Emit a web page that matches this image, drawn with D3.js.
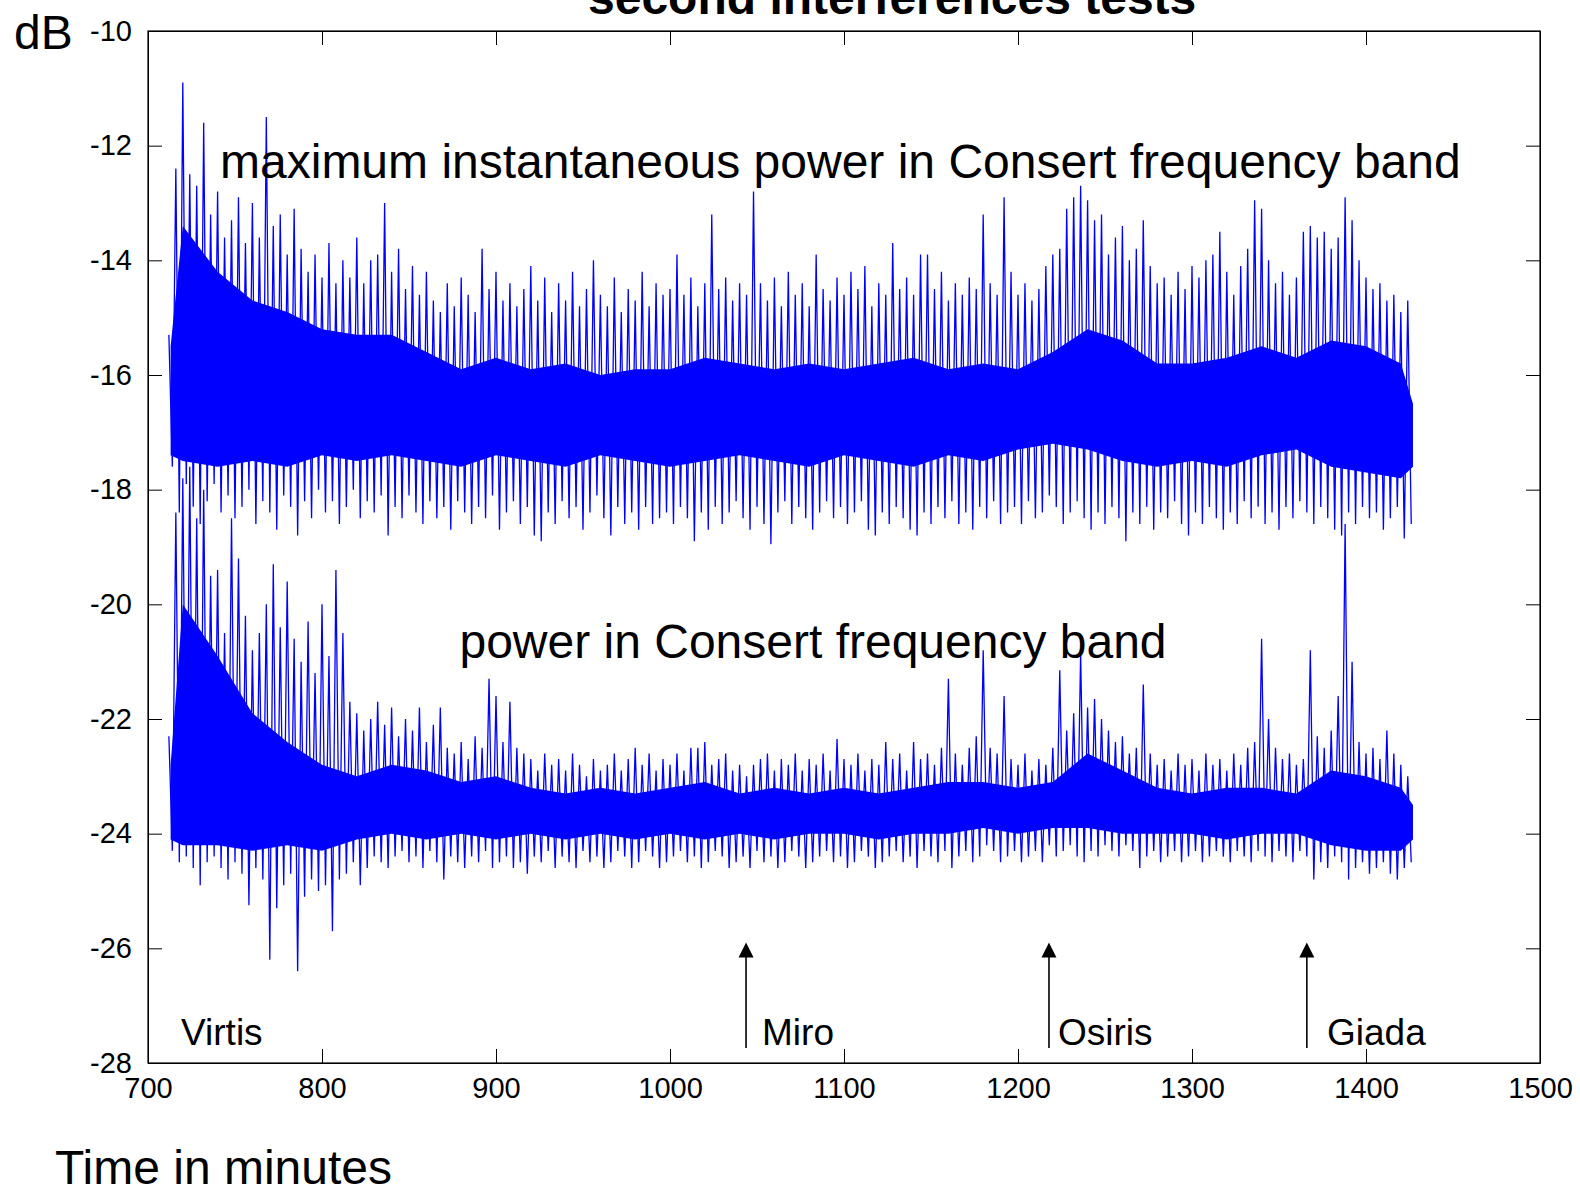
<!DOCTYPE html>
<html>
<head>
<meta charset="utf-8">
<script src="https://cdn.jsdelivr.net/npm/d3@7"></script>
<style>
  body { margin: 0; background: #ffffff; }
  svg { display: block; font-family: "Liberation Sans", Arial, Helvetica, sans-serif; }
</style>
</head>
<body>
<div id="chart"></div>
<script>
/////////////////////////////////////////////////////////////////////  DATA

var xTicks = [700, 800, 900, 1000, 1100, 1200, 1300, 1400, 1500];
var yTicks = [-28, -26, -24, -22, -20, -18, -16, -14, -12, -10];

// samples are 4 minute bins starting at 713 min, max and min of each bin
var binStart = 713;
var binStep = 4;

var upperHi = [
  -15.3, -12.4, -10.9, -12.5, -12.7, -11.6, -13.2, -12.8, -13.6, -13.3,
  -12.9, -13.7, -13.0, -13.6, -11.5, -13.4, -13.2, -13.9, -13.1, -13.8,
  -14.2, -13.9, -14.3, -13.7, -14.4, -14.0, -14.3, -13.6, -14.4, -14.0,
  -13.9, -13.0, -14.2, -13.8, -14.5, -14.1, -14.6, -14.2, -14.7, -14.9,
  -14.4, -14.8, -14.3, -14.6, -14.9, -13.8, -14.5, -14.2, -14.7, -14.4,
  -14.8, -14.5, -14.1, -14.7, -14.3, -14.9, -14.4, -14.7, -14.2, -14.8,
  -14.5, -14.0, -14.6, -14.8, -14.3, -14.9, -14.5, -14.7, -14.2, -14.8,
  -14.4, -14.6, -14.5, -13.9, -14.6, -14.3, -14.8, -14.4, -13.2, -14.5,
  -14.3, -14.7, -14.4, -14.6, -12.8, -14.4, -14.7, -14.3, -14.8, -14.2,
  -14.6, -14.4, -14.8, -13.9, -14.5, -14.7, -14.3, -14.6, -14.2, -14.5,
  -14.1, -14.8, -14.4, -14.6, -13.7, -14.5, -14.3, -14.6, -13.9, -13.9,
  -14.5, -14.2, -14.7, -14.4, -14.6, -14.3, -14.5, -13.2, -14.4, -14.6,
  -12.9, -14.2, -14.6, -14.4, -14.7, -14.5, -14.1, -13.9, -13.8, -13.1,
  -12.9, -12.7, -12.95, -13.3, -13.2, -13.9, -13.6, -13.4, -14.0, -13.8,
  -13.3, -14.1, -14.4, -14.3, -14.6, -14.2, -14.5, -14.1, -14.3, -14.0,
  -13.9, -13.5, -14.2, -14.6, -14.1, -13.8, -12.95, -13.1, -14.0, -14.4,
  -14.2, -14.6, -14.3, -13.5, -13.4, -13.6, -13.5, -13.8, -13.6, -12.9,
  -13.3, -14.0, -14.3, -14.5, -14.4, -14.7, -14.6, -14.9, -14.7
];

var upperLo = [
  -17.6, -18.4, -17.9, -18.3, -18.6, -18.2, -17.9, -18.4, -18.1, -18.5,
  -18.3, -18.0, -18.6, -18.2, -18.4, -18.7, -18.1, -18.3, -18.8, -18.2,
  -18.5, -18.0, -18.4, -18.2, -18.6, -18.3, -18.0, -18.5, -18.2, -18.4,
  -18.1, -18.8, -18.3, -18.5, -18.1, -18.4, -18.6, -18.2, -18.5, -18.3,
  -18.7, -18.2, -18.4, -18.6, -18.3, -18.5, -18.1, -18.7, -18.4, -18.2,
  -18.6, -18.3, -18.8, -18.9, -18.4, -18.6, -18.2, -18.5, -18.3, -18.7,
  -18.4, -18.1, -18.5, -18.8, -18.3, -18.6, -18.4, -18.7, -18.3, -18.6,
  -18.5, -18.4, -18.6, -18.3, -18.5, -18.9, -18.4, -18.7, -18.3, -18.6,
  -18.4, -18.2, -18.5, -18.7, -18.3, -18.6, -18.95, -18.4, -18.2, -18.6,
  -18.3, -18.5, -18.7, -18.4, -18.2, -18.5, -18.3, -18.6, -18.4, -18.2,
  -18.7, -18.8, -18.4, -18.6, -18.3, -18.5, -18.7, -18.8, -18.4, -18.6,
  -18.3, -18.5, -18.2, -18.6, -18.4, -18.7, -18.3, -18.5, -18.2, -18.6,
  -18.4, -18.3, -18.6, -18.2, -18.5, -18.4, -18.1, -18.3, -18.6, -18.4,
  -18.2, -18.5, -18.7, -18.4, -18.6, -18.3, -18.5, -18.9, -18.4, -18.6,
  -18.3, -18.7, -18.4, -18.5, -18.2, -18.6, -18.8, -18.4, -18.6, -18.3,
  -18.5, -18.7, -18.4, -18.6, -18.2, -18.5, -18.3, -18.6, -18.4, -18.7,
  -18.3, -18.5, -18.2, -18.4, -18.6, -18.3, -18.5, -18.7, -18.8, -18.4,
  -18.6, -18.3, -18.5, -18.4, -18.7, -18.5, -18.3, -18.85, -18.6
];

var lowerHi = [
  -22.3, -18.4, -17.8, -17.6, -18.5, -18.0, -19.5, -19.4, -20.5, -18.5,
  -19.2, -20.2, -20.8, -20.5, -20.0, -19.3, -20.4, -19.6, -20.6, -21.0,
  -20.3, -21.2, -20.0, -20.9, -19.4, -20.5, -21.7, -21.9, -22.2, -22.0,
  -21.7, -22.1, -21.8, -22.3, -22.0, -22.2, -21.8, -22.4, -22.1, -21.8,
  -22.5, -22.6, -22.4, -22.7, -22.3, -22.5, -21.3, -21.6, -22.4, -21.7,
  -22.5, -22.6, -22.7, -22.9, -22.6, -22.8, -22.7, -22.9, -22.6, -22.8,
  -23.0, -22.7, -22.9, -22.8, -22.6, -22.9, -22.7, -22.5, -22.8, -22.6,
  -22.9, -22.7, -22.8, -22.6, -22.9, -22.5, -22.5, -22.4, -22.8, -22.7,
  -22.6, -22.9, -22.8, -23.0, -22.8, -22.7, -22.6, -22.9, -22.7, -22.8,
  -22.6, -22.9, -22.7, -22.8, -22.6, -22.9, -22.35, -22.7, -22.8, -22.6,
  -22.9, -22.7, -22.8, -22.4, -22.7, -22.6, -22.9, -22.4, -22.7, -22.6,
  -22.8, -22.5, -21.3, -22.6, -22.8, -22.5, -22.3, -20.8, -22.5, -22.6,
  -21.6, -22.7, -22.8, -22.6, -22.9, -22.7, -22.8, -22.5, -21.15, -22.2,
  -21.9, -20.85, -21.8, -21.65, -22.0, -22.2, -22.4, -22.3, -22.6, -22.5,
  -21.4, -22.6, -22.8, -22.7, -22.9, -22.6, -22.8, -22.7, -22.9, -22.6,
  -22.8, -22.7, -22.9, -22.6, -22.8, -22.5, -22.4, -20.6, -22.0, -22.5,
  -22.7, -22.6, -22.8, -22.7, -20.8, -22.3, -22.5, -22.2, -21.6, -18.6,
  -21.0, -22.4, -22.6, -22.5, -22.7, -22.2, -22.6, -22.8, -23.0
];

var lowerLo = [
  -24.3, -24.5, -24.4, -24.6, -24.9, -24.5, -24.4, -24.6, -24.8, -24.5,
  -24.7, -25.25, -24.6, -24.8, -26.2, -25.3, -24.9, -24.7, -26.4, -25.1,
  -24.8, -25.0, -24.9, -25.7, -24.8, -24.7, -24.5, -24.9, -24.6, -24.4,
  -24.5, -24.6, -24.4, -24.3, -24.5, -24.4, -24.6, -24.3, -24.5, -24.8,
  -24.4, -24.5, -24.6, -24.4, -24.5, -24.3, -24.6, -24.5, -24.4, -24.6,
  -24.5, -24.7, -24.4, -24.5, -24.3, -24.6, -24.4, -24.5, -24.6, -24.3,
  -24.5, -24.4, -24.6, -24.5, -24.3, -24.4, -24.6, -24.5, -24.3, -24.4,
  -24.6, -24.5, -24.4, -24.3, -24.5, -24.4, -24.6, -24.5, -24.3, -24.4,
  -24.6, -24.5, -24.4, -24.6, -24.3, -24.5, -24.4, -24.6, -24.5, -24.3,
  -24.4, -24.6, -24.5, -24.4, -24.3, -24.5, -24.4, -24.6, -24.5, -24.3,
  -24.4, -24.6, -24.5, -24.4, -24.3, -24.5, -24.4, -24.6, -24.3, -24.4,
  -24.5, -24.3, -24.6, -24.4, -24.3, -24.5, -24.4, -24.2, -24.3, -24.5,
  -24.4, -24.3, -24.5, -24.4, -24.3, -24.5, -24.2, -24.4, -24.3, -24.2,
  -24.4, -24.5, -24.3, -24.4, -24.2, -24.3, -24.4, -24.2, -24.3, -24.6,
  -24.4, -24.3, -24.5, -24.4, -24.3, -24.5, -24.4, -24.3, -24.5, -24.4,
  -24.3, -24.4, -24.5, -24.3, -24.4, -24.5, -24.3, -24.4, -24.5, -24.3,
  -24.4, -24.5, -24.3, -24.4, -24.8, -24.5, -24.6, -24.4, -24.5, -24.8,
  -24.6, -24.5, -24.7, -24.6, -24.5, -24.7, -24.8, -24.6, -24.5
];

// solid part of each band (where the trace is fully dense)
var coreTimes = [713, 720, 740, 760, 780, 800, 820, 840, 860, 880,
  900, 920, 940, 960, 980, 1000, 1020, 1040, 1060, 1080,
  1100, 1120, 1140, 1160, 1180, 1200, 1220, 1240, 1260, 1280,
  1300, 1320, 1340, 1360, 1380, 1400, 1420, 1427];

var upperCoreTop = [-15.5, -13.4, -14.2, -14.7, -14.9, -15.2, -15.3, -15.3, -15.6, -15.9,
  -15.7, -15.9, -15.8, -16.0, -15.9, -15.9, -15.7, -15.8, -15.9, -15.8,
  -15.9, -15.8, -15.7, -15.9, -15.8, -15.9, -15.6, -15.2, -15.4, -15.8,
  -15.8, -15.7, -15.5, -15.7, -15.4, -15.5, -15.8, -16.5];
var upperCoreBottom = [-17.4, -17.5, -17.6, -17.5, -17.6, -17.4, -17.5, -17.4, -17.5, -17.6,
  -17.4, -17.5, -17.6, -17.4, -17.5, -17.6, -17.5, -17.4, -17.5, -17.6,
  -17.4, -17.5, -17.6, -17.4, -17.5, -17.3, -17.2, -17.3, -17.5, -17.6,
  -17.5, -17.6, -17.4, -17.3, -17.6, -17.7, -17.8, -17.6];
var lowerCoreTop = [-22.8, -20.0, -20.9, -21.9, -22.4, -22.8, -23.0, -22.8, -22.9, -23.1,
  -23.0, -23.2, -23.3, -23.2, -23.3, -23.2, -23.1, -23.3, -23.2, -23.3,
  -23.2, -23.3, -23.2, -23.1, -23.1, -23.2, -23.1, -22.6, -22.9, -23.2,
  -23.3, -23.2, -23.2, -23.3, -22.9, -23.0, -23.2, -23.5];
var lowerCoreBottom = [-24.1, -24.2, -24.2, -24.3, -24.2, -24.3, -24.1, -24.0, -24.1, -24.0,
  -24.1, -24.0, -24.1, -24.0, -24.1, -24.0, -24.1, -24.0, -24.1, -24.0,
  -24.0, -24.1, -24.0, -24.0, -23.9, -24.0, -23.9, -23.9, -24.0, -24.0,
  -24.0, -24.1, -24.0, -24.0, -24.2, -24.3, -24.3, -24.1];

var seriesLabels = ["maximum instantaneous power in Consert frequency band", "power in Consert frequency band"];
var seriesLabelTimes = [741.4, 879];
var seriesLabelValues = [-12.57, -20.94];

var instrumentNames = ["Virtis", "Miro", "Osiris", "Giada"];
var instrumentLabelTimes = [719, 1052.9, 1223, 1377.6];
var instrumentLabelValue = -27.69;
var arrowTimes = [1043.7, 1217.8, 1366];
var arrowTipValue = -25.9;
var arrowFootValue = -27.74;

/////////////////////////////////////////////////////////////////////  CHART

var width = 1580;
var height = 1191;
var plotLeft = 148, plotRight = 1540, plotTop = 31, plotBottom = 1063;
var signalBlue = "#0000ff";
var tickLength = 14;

var svg, x, y;

createSVG();
makeScales();
drawSignal(upperHi, upperLo, upperCoreTop, upperCoreBottom);
drawSignal(lowerHi, lowerLo, lowerCoreTop, lowerCoreBottom);
drawAxes();
drawTexts();
drawInstrumentMarks();

function createSVG() {
  svg = d3.select("#chart")
    .append("svg")
    .attr("width", width)
    .attr("height", height);

  svg.append("rect")
    .attr("width", width)
    .attr("height", height)
    .attr("fill", "#ffffff");
}

function makeScales() {
  x = d3.scaleLinear().domain([700, 1500]).range([plotLeft, plotRight]);
  y = d3.scaleLinear().domain([-28, -10]).range([plotBottom, plotTop]);
}

function drawSignal(hi, lo, coreTop, coreBottom) {
  var core = coreTimes.map(function(t, i) {
    return {t: t, top: coreTop[i], bottom: coreBottom[i]};
  });

  svg.append("path")
    .datum(core)
    .attr("fill", signalBlue)
    .attr("d", d3.area()
      .x(function(d) { return x(d.t); })
      .y0(function(d) { return y(d.bottom); })
      .y1(function(d) { return y(d.top); }));

  // trace goes up to the bin max, then down to the bin min
  var points = [];
  hi.forEach(function(v, i) {
    var t = binStart + i * binStep;
    points.push([t - 1, v]);
    points.push([t + 1, lo[i]]);
  });

  svg.append("path")
    .datum(points)
    .attr("fill", "none")
    .attr("stroke", signalBlue)
    .attr("stroke-width", 1.3)
    .attr("stroke-linejoin", "bevel")
    .attr("d", d3.line()
      .x(function(d) { return x(d[0]); })
      .y(function(d) { return y(d[1]); }));
}

function drawAxes() {
  var noLabel = function() { return ""; };
  var plainNumber = function(d) { return String(d); };

  var bottom = svg.append("g")
    .attr("transform", "translate(0," + plotBottom + ")")
    .call(d3.axisBottom(x).tickValues(xTicks).tickSizeInner(-tickLength).tickSizeOuter(0)
      .tickPadding(14).tickFormat(plainNumber));

  var left = svg.append("g")
    .attr("transform", "translate(" + plotLeft + ",0)")
    .call(d3.axisLeft(y).tickValues(yTicks).tickSizeInner(-tickLength).tickSizeOuter(0)
      .tickPadding(16).tickFormat(plainNumber));

  svg.append("g")
    .attr("transform", "translate(0," + plotTop + ")")
    .call(d3.axisTop(x).tickValues(xTicks).tickSizeInner(-tickLength).tickSizeOuter(0)
      .tickFormat(noLabel));

  svg.append("g")
    .attr("transform", "translate(" + plotRight + ",0)")
    .call(d3.axisRight(y).tickValues(yTicks).tickSizeInner(-tickLength).tickSizeOuter(0)
      .tickFormat(noLabel));

  svg.selectAll(".tick line").attr("stroke", "#000000");
  svg.selectAll(".domain").attr("stroke", "#000000");

  bottom.attr("font-size", 29).attr("font-family", null);
  left.attr("font-size", 29).attr("font-family", null);
  svg.selectAll(".tick text").attr("fill", "#000000");

  svg.append("rect")
    .attr("x", plotLeft)
    .attr("y", plotTop)
    .attr("width", plotRight - plotLeft)
    .attr("height", plotBottom - plotTop)
    .attr("fill", "none")
    .attr("stroke", "#000000")
    .attr("stroke-width", 1.2);
}

function drawTexts() {
  svg.append("text")
    .attr("x", 588)
    .attr("y", 14)
    .attr("font-size", 48)
    .attr("font-weight", "bold")
    .text("second interferences tests");

  svg.append("text")
    .attr("x", 14)
    .attr("y", 49)
    .attr("font-size", 48)
    .text("dB");

  svg.append("text")
    .attr("x", 55)
    .attr("y", 1184)
    .attr("font-size", 48)
    .text("Time in minutes");

  svg.selectAll(".seriesLabel")
    .data(seriesLabels)
    .enter()
    .append("text")
    .attr("class", "seriesLabel")
    .attr("x", function(d, i) { return x(seriesLabelTimes[i]); })
    .attr("y", function(d, i) { return y(seriesLabelValues[i]); })
    .attr("font-size", 48)
    .text(function(d) { return d; });
}

function drawInstrumentMarks() {
  svg.selectAll(".instrument")
    .data(instrumentNames)
    .enter()
    .append("text")
    .attr("class", "instrument")
    .attr("x", function(d, i) { return x(instrumentLabelTimes[i]); })
    .attr("y", y(instrumentLabelValue))
    .attr("font-size", 37)
    .text(function(d) { return d; });

  var arrows = svg.selectAll(".arrow")
    .data(arrowTimes)
    .enter()
    .append("g")
    .attr("class", "arrow");

  arrows.append("line")
    .attr("x1", function(d) { return x(d); })
    .attr("x2", function(d) { return x(d); })
    .attr("y1", y(arrowFootValue))
    .attr("y2", y(arrowTipValue) + 10)
    .attr("stroke", "#000000")
    .attr("stroke-width", 1.6);

  arrows.append("path")
    .attr("fill", "#000000")
    .attr("d", function(d) {
      var cx = x(d), tip = y(arrowTipValue);
      return "M" + cx + "," + tip + "L" + (cx + 7.5) + "," + (tip + 15) + "L" + (cx - 7.5) + "," + (tip + 15) + "Z";
    });
}
</script>
</body>
</html>
